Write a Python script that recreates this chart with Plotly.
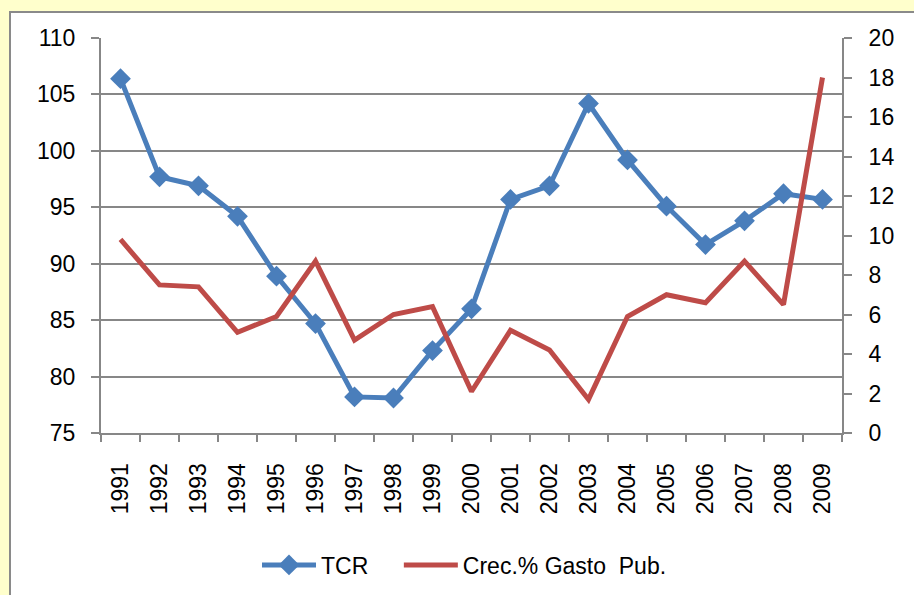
import plotly.graph_objects as go

years = ["1991", "1992", "1993", "1994", "1995", "1996", "1997", "1998", "1999", "2000",
         "2001", "2002", "2003", "2004", "2005", "2006", "2007", "2008", "2009"]
tcr = [106.4, 97.7, 96.9, 94.2, 88.9, 84.7, 78.2, 78.1, 82.3, 86.0,
       95.7, 96.9, 104.2, 99.2, 95.1, 91.7, 93.8, 96.2, 95.7]
gasto = [9.8, 7.5, 7.4, 5.1, 5.9, 8.7, 4.7, 6.0, 6.4, 2.1,
         5.2, 4.2, 1.7, 5.9, 7.0, 6.6, 8.7, 6.5, 18.0]

W, H = 914, 595
L, R, T, B = 101, 842, 38, 433
FONT = "Arial, Liberation Sans, sans-serif"
GRID = "#878787"
NB = "\u00a0"

def px(p):
    return (p - L) / (R - L)

def py(q):
    return (B - q) / (B - T)

fig = go.Figure()
fig.add_trace(go.Scatter(
    x=years, y=tcr, name="TCR" + NB * 4, mode="lines+markers",
    line=dict(color="#4A7EBB", width=5),
    marker=dict(symbol="diamond", size=16, color="#4A7EBB"),
    yaxis="y"))
fig.add_trace(go.Scatter(
    x=years, y=gasto, name="Crec.%" + NB + "Gasto" + NB + " Pub.", mode="lines",
    line=dict(color="#BE4B48", width=5),
    yaxis="y2"))

fig.update_layout(
    width=W, height=H,
    margin=dict(l=L, r=W - R, t=T, b=H - B, autoexpand=False),
    paper_bgcolor="#FFFFCC",
    plot_bgcolor="white",
    font=dict(family=FONT, size=23, color="black"),
    showlegend=True,
    legend=dict(orientation="h", x=px(257), xanchor="left", y=py(565), yanchor="middle",
                font=dict(size=23), bgcolor="rgba(0,0,0,0)", itemwidth=54,
                traceorder="normal"),
    xaxis=dict(type="category", range=[-0.5, 18.5], tickangle=-90,
               tickson="boundaries", ticks="outside", ticklen=7, tickwidth=2,
               tickcolor=GRID, showline=True, linecolor=GRID, linewidth=2,
               showgrid=False, tickfont=dict(size=23), ticklabelstandoff=19,
               automargin=False),
    yaxis=dict(range=[75, 110], dtick=5, tick0=75, ticks="outside", ticklen=8,
               tickwidth=2, tickcolor=GRID, showline=True, linecolor=GRID,
               linewidth=2, showgrid=True, gridcolor=GRID, gridwidth=2,
               zeroline=False, tickfont=dict(size=23), ticklabelstandoff=11,
               automargin=False),
    yaxis2=dict(range=[0, 20], dtick=2, tick0=0, overlaying="y", side="right",
                ticks="outside", ticklen=8, tickwidth=2, tickcolor=GRID,
                showline=True, linecolor=GRID, linewidth=2, showgrid=False,
                zeroline=False, tickfont=dict(size=23), ticklabelstandoff=12,
                automargin=False),
    shapes=[dict(type="rect", xref="paper", yref="paper",
                 x0=px(10), x1=px(930), y0=py(610), y1=py(12),
                 fillcolor="white", line=dict(color="#8A8A8A", width=2),
                 layer="below")],
)

fig.write_html("out.html", config={"displayModeBar": False},
               post_script="document.body.style.margin='0';")
